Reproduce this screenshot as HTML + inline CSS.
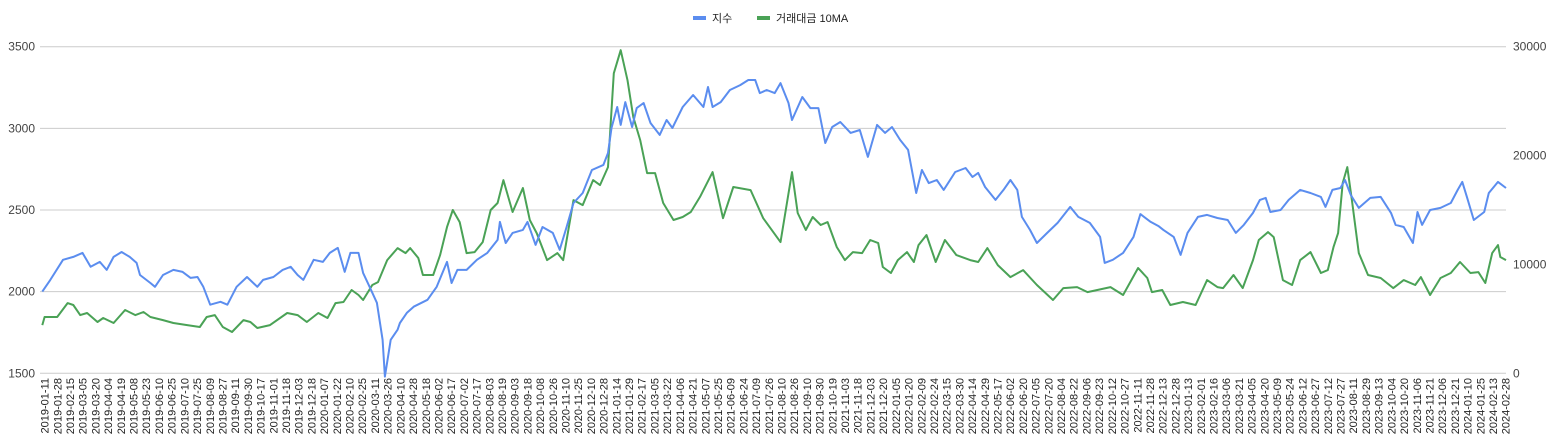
<!DOCTYPE html>
<html><head><meta charset="utf-8">
<style>
html,body{margin:0;padding:0;background:#fff;}
svg{display:block;font-family:"Liberation Sans","Noto Sans CJK KR",sans-serif;}
</style></head>
<body>
<svg id="chart" width="1555" height="448">
<g id="grid"></g>
<g id="yl"></g>
<g id="yr"></g>
<g id="xa"></g>
<g id="series"></g>
<g>
 <g>
  <line x1="693" y1="18" x2="706" y2="18" stroke="#5b8def" stroke-width="4"/>
  <text x="712" y="22" font-size="11" fill="#222">지수</text>
 </g>
 <g>
  <line x1="757" y1="18" x2="770" y2="18" stroke="#4aa256" stroke-width="4"/>
  <text x="776" y="22" font-size="11" fill="#222">거래대금 10MA</text>
 </g>
</g>
</svg>
<script>
const idxDays=[2,9,20,29,37,44,52,58,64,71,78,84,87,96,100,107,116,124,131,137,142,148,157,163,171,180,189,194,203,211,218,224,229,238,246,252,259,265,270,277,281,287,293,298,300,305,311,313,319,325,337,345,354,358,363,371,380,389,398,400,405,411,420,424,431,437,446,452,458,464,472,480,490,494,497,502,505,509,515,519,525,531,539,545,550,559,568,577,581,585,592,600,609,616,622,626,632,639,644,651,654,663,670,677,683,689,696,705,713,720,728,735,741,748,755,762,767,773,780,786,796,805,811,816,822,831,838,844,850,854,861,867,876,885,896,903,913,922,926,933,942,951,957,966,973,977,986,992,998,1007,1015,1024,1033,1040,1047,1055,1061,1066,1070,1079,1086,1096,1105,1114,1118,1124,1131,1135,1140,1147,1157,1166,1175,1179,1186,1194,1198,1202,1209,1218,1227,1233,1237,1241,1247,1256,1260,1268,1275];
const idxVals=[2000,2072,2195,2213,2237,2152,2182,2133,2213,2243,2213,2176,2102,2053,2030,2102,2133,2121,2084,2090,2030,1920,1938,1920,2030,2090,2030,2072,2090,2133,2152,2102,2072,2195,2182,2237,2268,2121,2237,2237,2115,2024,1932,1705,1480,1705,1767,1808,1870,1908,1950,2030,2182,2053,2133,2133,2195,2237,2317,2427,2298,2360,2378,2427,2286,2396,2360,2256,2396,2543,2604,2745,2776,2849,3002,3131,3021,3161,3008,3124,3155,3033,2960,3051,3002,3131,3204,3131,3253,3131,3161,3235,3265,3296,3296,3216,3235,3216,3277,3155,3051,3192,3124,3124,2910,3008,3039,2972,2990,2825,3021,2972,3008,2929,2868,2604,2745,2665,2684,2623,2733,2757,2702,2727,2641,2562,2623,2684,2623,2458,2378,2298,2360,2421,2519,2458,2421,2335,2176,2195,2237,2335,2475,2427,2400,2378,2335,2225,2360,2458,2470,2451,2439,2360,2409,2482,2562,2574,2488,2500,2562,2623,2604,2580,2519,2623,2635,2684,2592,2513,2574,2580,2482,2409,2396,2298,2488,2409,2500,2513,2543,2623,2672,2580,2439,2488,2604,2672,2635];
const volDays=[2,4,15,24,29,35,41,50,55,64,74,83,90,96,107,116,128,139,145,152,159,167,177,183,189,200,215,224,232,242,250,257,264,271,277,281,289,294,302,311,318,322,329,333,342,348,354,359,365,371,378,385,392,398,403,411,420,426,432,441,450,455,464,472,481,487,494,499,505,511,516,522,528,535,542,551,559,566,574,585,594,603,618,629,644,654,659,666,672,679,685,693,700,707,715,722,729,733,740,746,754,760,764,771,779,787,797,809,816,824,833,844,855,867,881,890,902,911,931,942,955,963,967,976,983,994,1005,1015,1024,1029,1038,1046,1055,1060,1068,1073,1081,1089,1096,1105,1114,1120,1125,1129,1133,1137,1141,1147,1155,1166,1177,1186,1196,1201,1209,1218,1227,1235,1244,1251,1257,1263,1268,1270,1275];
const volVals=[4430,5170,5170,6450,6270,5350,5540,4710,5080,4620,5810,5350,5630,5170,4890,4620,4430,4250,5170,5350,4250,3790,4890,4710,4160,4430,5540,5350,4710,5540,5080,6450,6550,7650,7190,6730,8110,8380,10400,11500,11040,11500,10590,9030,9030,10860,13430,15000,13890,11040,11130,12050,15000,15640,17750,14820,17020,14080,12880,10400,11040,10400,15910,15450,17750,17290,18940,27560,29680,26920,23530,21420,18390,18390,15640,14080,14360,14820,16200,18480,14250,17110,16830,14250,12050,18480,14720,13160,14360,13620,13890,11590,10400,11130,11040,12240,11960,9760,9210,10400,11130,10220,11780,12700,10220,12240,10860,10400,10220,11500,9940,8840,9480,8110,6730,7830,7920,7460,7920,7190,9670,8750,7460,7650,6270,6550,6270,8560,7920,7830,9030,7830,10400,12240,12970,12510,8560,8110,10400,11130,9210,9480,11590,12880,17480,18940,15910,11040,9030,8750,7830,8560,8110,8840,7190,8750,9210,10220,9210,9300,8290,11040,11780,10680,10400];
const tickLabels=["2019-01-11","2019-01-28","2019-02-15","2019-03-05","2019-03-20","2019-04-04","2019-04-19","2019-05-08","2019-05-23","2019-06-10","2019-06-25","2019-07-10","2019-07-25","2019-08-09","2019-08-27","2019-09-11","2019-09-30","2019-10-17","2019-11-01","2019-11-18","2019-12-03","2019-12-18","2020-01-07","2020-01-22","2020-02-10","2020-02-25","2020-03-11","2020-03-26","2020-04-10","2020-04-28","2020-05-18","2020-06-02","2020-06-17","2020-07-02","2020-07-17","2020-08-03","2020-08-19","2020-09-03","2020-09-18","2020-10-08","2020-10-26","2020-11-10","2020-11-25","2020-12-10","2020-12-28","2021-01-14","2021-01-29","2021-02-17","2021-03-05","2021-03-22","2021-04-06","2021-04-21","2021-05-07","2021-05-25","2021-06-09","2021-06-24","2021-07-09","2021-07-26","2021-08-10","2021-08-26","2021-09-10","2021-09-30","2021-10-19","2021-11-03","2021-11-18","2021-12-03","2021-12-20","2022-01-05","2022-01-20","2022-02-09","2022-02-24","2022-03-15","2022-03-30","2022-04-14","2022-04-29","2022-05-17","2022-06-02","2022-06-20","2022-07-05","2022-07-20","2022-08-04","2022-08-22","2022-09-06","2022-09-23","2022-10-12","2022-10-27","2022-11-11","2022-11-28","2022-12-13","2022-12-28","2023-01-13","2023-02-01","2023-02-16","2023-03-06","2023-03-21","2023-04-05","2023-04-20","2023-05-09","2023-05-24","2023-06-12","2023-06-27","2023-07-12","2023-07-27","2023-08-11","2023-08-29","2023-09-13","2023-10-04","2023-10-20","2023-11-06","2023-11-21","2023-12-06","2023-12-21","2024-01-10","2024-01-25","2024-02-13","2024-02-28"];
const leftTicks=[1500,2000,2500,3000,3500];
const rightTicks=[0,10000,20000,30000];

const NS="http://www.w3.org/2000/svg";
const X0=40,X1=1506,Y0=373.3,Y1=46.7,DMAX=1275;
const xS=d=>X0+(d/DMAX)*(X1-X0);
const yL=v=>Y0-(v-1500)/2000*(Y0-Y1);
const yR=v=>Y0-v/30000*(Y0-Y1);
function mk(t,a,p){const e=document.createElementNS(NS,t);for(const k in a)e.setAttribute(k,a[k]);p.appendChild(e);return e;}
const grid=document.getElementById('grid'),yl=document.getElementById('yl'),yr=document.getElementById('yr'),xa=document.getElementById('xa'),ser=document.getElementById('series');
leftTicks.forEach(v=>{
  const l=mk('line',{x1:X0,x2:X1,y1:yL(v),y2:yL(v),stroke:'#ccc','stroke-width':1},grid);
  
  
  const t=mk('text',{x:35,y:yL(v)+4,'text-anchor':'end','font-size':12,fill:'#444'},yl);
  t.textContent=v;
  
  
});
rightTicks.forEach(v=>{
  const t=mk('text',{x:1513,y:yR(v)+4,'font-size':12,fill:'#444'},yr);
  t.textContent=v;
  
  
});
tickLabels.forEach((s,i)=>{
  const d=4+i*11.05;const x=xS(d)+4;
  const t=mk('text',{x:0,y:0,'text-anchor':'end','font-size':11,fill:'#222',transform:`translate(${x.toFixed(1)},378) rotate(-90)`},xa);
  t.textContent=s;
  
  
});
function path(days,vals,ys,col,name){
  const d=days.map((dd,i)=>(i?'L':'M')+xS(dd).toFixed(1)+','+ys(vals[i]).toFixed(1)).join('');
  const p=mk('path',{d:d,fill:'none',stroke:col,'stroke-width':2,'stroke-linejoin':'round'},ser);
  
  
}
path(volDays,volVals,yR,'#4aa256','volume-10ma-line');
path(idxDays,idxVals,yL,'#5b8def','index-line');
</script>
</body></html>
